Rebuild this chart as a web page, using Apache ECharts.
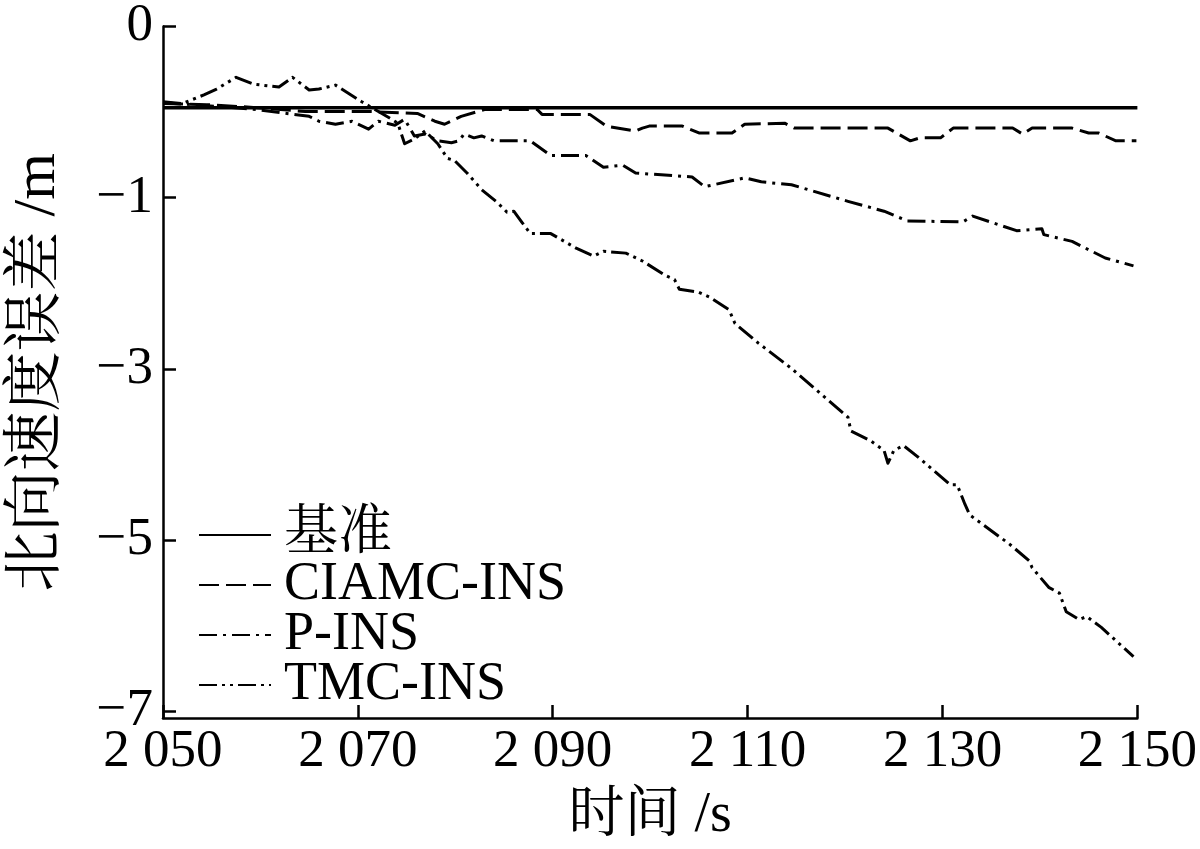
<!DOCTYPE html>
<html>
<head>
<meta charset="utf-8">
<script src="https://cdn.jsdelivr.net/npm/echarts@6/dist/echarts.min.js"></script>
<style>
html,body{margin:0;padding:0;background:#fff;}
#chart{width:1200px;height:849px;}
</style>
</head>
<body>
<div id="chart"></div>
<script>
// ---- data ----
const seriesNames = ['基准', 'CIAMC-INS', 'P-INS', 'TMC-INS'];

const xTickValues = [2050, 2070, 2090, 2110, 2130, 2150];
const xTickLabels = ['2 050', '2 070', '2 090', '2 110', '2 130', '2 150'];
const yTickValues = [1, -1, -3, -5, -7];
const yTickLabels = ['0', '−1', '−3', '−5', '−7'];

const baseline = [[2050, 0.05], [2150, 0.05]];

const ciamc = [
  [2050.0,0.100],[2054.5,0.087],[2059.6,0.052],[2064.6,0.007],[2067.7,0.007],[2071.1,0.007],
  [2076.1,-0.016],[2077.9,-0.107],[2078.9,-0.142],[2080.6,-0.050],[2083.0,0.030],[2088.4,0.030],
  [2088.9,-0.027],[2093.8,-0.027],[2095.5,-0.164],[2098.5,-0.221],[2099.2,-0.187],[2099.9,-0.164],
  [2103.3,-0.164],[2105.0,-0.244],[2108.4,-0.244],[2109.7,-0.142],[2113.8,-0.130],[2114.8,-0.187],
  [2124.4,-0.187],[2126.7,-0.336],[2127.7,-0.301],[2129.8,-0.301],[2131.1,-0.187],[2137.2,-0.187],
  [2138.2,-0.256],[2139.2,-0.187],[2143.3,-0.187],[2145.0,-0.244],[2146.0,-0.244],[2147.8,-0.336],
  [2149.9,-0.336]
];

const pins = [
  [2050.0,0.110],[2054.5,0.075],[2059.6,0.030],[2065.0,-0.050],[2066.0,-0.107],[2067.7,-0.142],
  [2069.4,-0.107],[2071.1,-0.199],[2072.1,-0.107],[2073.8,-0.153],[2074.8,-0.084],[2075.8,-0.279],
  [2076.9,-0.256],[2078.2,-0.336],[2079.6,-0.358],[2080.4,-0.336],[2080.9,-0.256],[2081.9,-0.301],
  [2082.7,-0.279],[2084.0,-0.336],[2087.7,-0.336],[2089.8,-0.507],[2093.4,-0.507],[2095.2,-0.644],
  [2097.2,-0.621],[2098.5,-0.712],[2104.3,-0.758],[2105.6,-0.872],[2109.7,-0.769],[2111.4,-0.815],
  [2114.5,-0.849],[2120.3,-1.043],[2124.0,-1.158],[2126.4,-1.272],[2132.1,-1.283],[2133.1,-1.215],
  [2137.6,-1.386],[2140.2,-1.363],[2140.4,-1.432],[2143.3,-1.511],[2146.7,-1.705],[2149.6,-1.797]
];

const tmc = [
  [2050.0,0.120],[2052.0,0.100],[2054.2,0.201],[2055.5,0.269],[2057.5,0.406],[2059.3,0.326],
  [2061.9,0.292],[2063.3,0.406],[2065.0,0.258],[2066.0,0.269],[2067.7,0.315],[2070.4,0.121],
  [2073.3,-0.073],[2074.1,-0.130],[2074.8,-0.370],[2075.8,-0.313],[2076.9,-0.221],[2078.2,-0.370],
  [2079.2,-0.541],[2079.9,-0.564],[2081.2,-0.712],[2082.7,-0.906],[2084.3,-1.055],[2085.3,-1.169],
  [2086.0,-1.158],[2086.8,-1.283],[2087.7,-1.420],[2089.8,-1.420],[2092.4,-1.591],[2094.2,-1.683],
  [2095.2,-1.626],[2097.5,-1.648],[2099.2,-1.740],[2101.6,-1.911],[2102.5,-1.957],[2103.0,-2.071],
  [2105.0,-2.105],[2106.1,-2.162],[2108.1,-2.311],[2108.7,-2.470],[2111.1,-2.699],[2114.5,-2.995],
  [2119.6,-3.498],[2120.3,-3.566],[2120.6,-3.726],[2122.6,-3.840],[2124.0,-3.954],[2124.4,-4.103],
  [2125.0,-3.954],[2126.0,-3.897],[2127.4,-4.023],[2130.8,-4.354],[2131.5,-4.354],[2132.3,-4.582],
  [2132.8,-4.708],[2136.9,-5.050],[2138.9,-5.244],[2139.2,-5.324],[2140.9,-5.553],[2142.0,-5.621],
  [2142.7,-5.838],[2144.0,-5.929],[2144.8,-5.895],[2146.3,-6.021],[2149.6,-6.363]
];

// ---- chart ----
const FONT = "'Liberation Serif', 'Noto Serif CJK SC', 'Noto Sans CJK SC', serif";
const chart = echarts.init(document.getElementById('chart'), null, {renderer: 'canvas'});

function lineSeries(name, data, dash, width) {
  return {
    name: name,
    type: 'line',
    data: data,
    symbol: 'none',
    showSymbol: false,
    animation: false,
    lineStyle: {color: '#000', width: width, type: dash, cap: 'butt', join: 'round'},
    itemStyle: {color: '#000'}
  };
}

chart.setOption({
  backgroundColor: '#fff',
  animation: false,
  grid: {left: 156, right: 61, top: 23, bottom: 119, containLabel: false},
  legend: {
    orient: 'vertical',
    left: 193,
    top: 503,
    itemWidth: 72,
    itemHeight: 14,
    itemGap: -4,
    data: seriesNames,
    itemStyle: {opacity: 0, borderWidth: 0},
    textStyle: {fontFamily: FONT, fontSize: 54, color: '#000', padding: [0, 0, 0, 8]}
  },
  xAxis: {
    type: 'value',
    min: 2050,
    max: 2150,
    name: '时间 /s',
    nameLocation: 'middle',
    nameGap: 70,
    nameTextStyle: {fontFamily: FONT, fontSize: 56, color: '#000'},
    axisLine: {show: true, onZero: false, lineStyle: {color: '#000', width: 2.5}},
    axisTick: {show: true, inside: true, length: 13, lineStyle: {color: '#000', width: 2.5}, customValues: xTickValues},
    axisLabel: {
      customValues: xTickValues,
      margin: 8,
      fontFamily: FONT, fontSize: 53, color: '#000',
      formatter: function (v) { const i = xTickValues.indexOf(v); return i >= 0 ? xTickLabels[i] : ''; }
    },
    splitLine: {show: false}
  },
  yAxis: {
    type: 'value',
    min: -7.08,
    max: 1,
    name: '北向速度误差 /m',
    nameLocation: 'middle',
    nameGap: 95,
    nameRotate: 90,
    nameTextStyle: {fontFamily: FONT, fontSize: 60, color: '#000'},
    axisLine: {show: true, onZero: false, lineStyle: {color: '#000', width: 2.5}},
    axisTick: {show: true, inside: true, length: 13, lineStyle: {color: '#000', width: 2.5}, customValues: yTickValues},
    axisLabel: {
      customValues: yTickValues,
      margin: 10,
      fontFamily: FONT, fontSize: 53, color: '#000',
      formatter: function (v) {
        let best = 0, d = Infinity;
        yTickValues.forEach(function (t, i) { if (Math.abs(t - v) < d) { d = Math.abs(t - v); best = i; } });
        return yTickLabels[best];
      }
    },
    splitLine: {show: false}
  },
  series: [
    lineSeries(seriesNames[0], baseline, 'solid', 3.5),
    lineSeries(seriesNames[1], ciamc, [20, 7], 3),
    lineSeries(seriesNames[2], pins, [18, 6, 3, 6], 3),
    lineSeries(seriesNames[3], tmc, [18, 5, 3, 5, 3, 5], 3)
  ]
});
</script>
</body>
</html>
